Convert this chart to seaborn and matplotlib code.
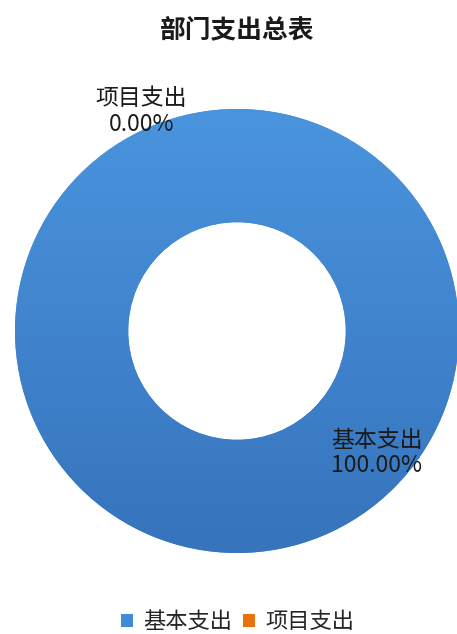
import numpy as np
import matplotlib
matplotlib.use("Agg")
import matplotlib.pyplot as plt
from matplotlib.colors import LinearSegmentedColormap
import seaborn as sns

# data
categories = ["基本支出", "项目支出"]
values = [100.0, 0.0]
colors = ["#418AD6", "#E8720C"]
title = "部门支出总表"

sns.set_theme(style="white")
plt.rcParams['font.family'] = ['Noto Sans CJK SC', 'DejaVu Sans']

fig = plt.figure(figsize=(4.57, 6.34), dpi=100)
ax = fig.add_axes([15 / 457, 81 / 634, 444 / 457, 444 / 634])

total = sum(values)
wedges, _ = ax.pie(values, colors=colors, startangle=90, counterclock=False,
                   radius=1.0, wedgeprops=dict(width=0.51, linewidth=0))
ax.set_xlim(-1, 1)
ax.set_ylim(-1, 1)
ax.set_aspect('equal')
ax.axis('off')

# soft vertical gradient like the office chart
grad = np.linspace(0, 1, 256).reshape(-1, 1)
cmap = LinearSegmentedColormap.from_list("blu", ["#4A94DE", "#3674BC"])
for w, v in zip(wedges, values):
    if v > 0:
        im = ax.imshow(grad, extent=[-1, 1, -1, 1], cmap=cmap, aspect='auto',
                       origin='upper', zorder=w.get_zorder())
        im.set_clip_path(w)

# data labels
label_pos = {"项目支出": (-0.43, 0.99), "基本支出": (0.63, -0.55)}
for c, v in zip(categories, values):
    x, y = label_pos[c]
    ax.text(x, y, f"{c}\n{v / total * 100:.2f}%", ha='center', va='center',
            fontsize=16.5, color='#1a1a1a', linespacing=1.15, clip_on=False,
            zorder=5)

fig.text(0.52, 1 - 30 / 634, title, ha='center', va='center',
         fontsize=18.5, fontweight='bold', color='#1a1a1a')

leg = fig.legend(wedges, categories, loc='center', ncol=2,
                 bbox_to_anchor=(0.52, 1 - 622 / 634), frameon=False,
                 fontsize=16, handlelength=0.55, handleheight=0.55,
                 handletextpad=0.45, columnspacing=0.5)

fig.savefig("out.png", dpi=100)
